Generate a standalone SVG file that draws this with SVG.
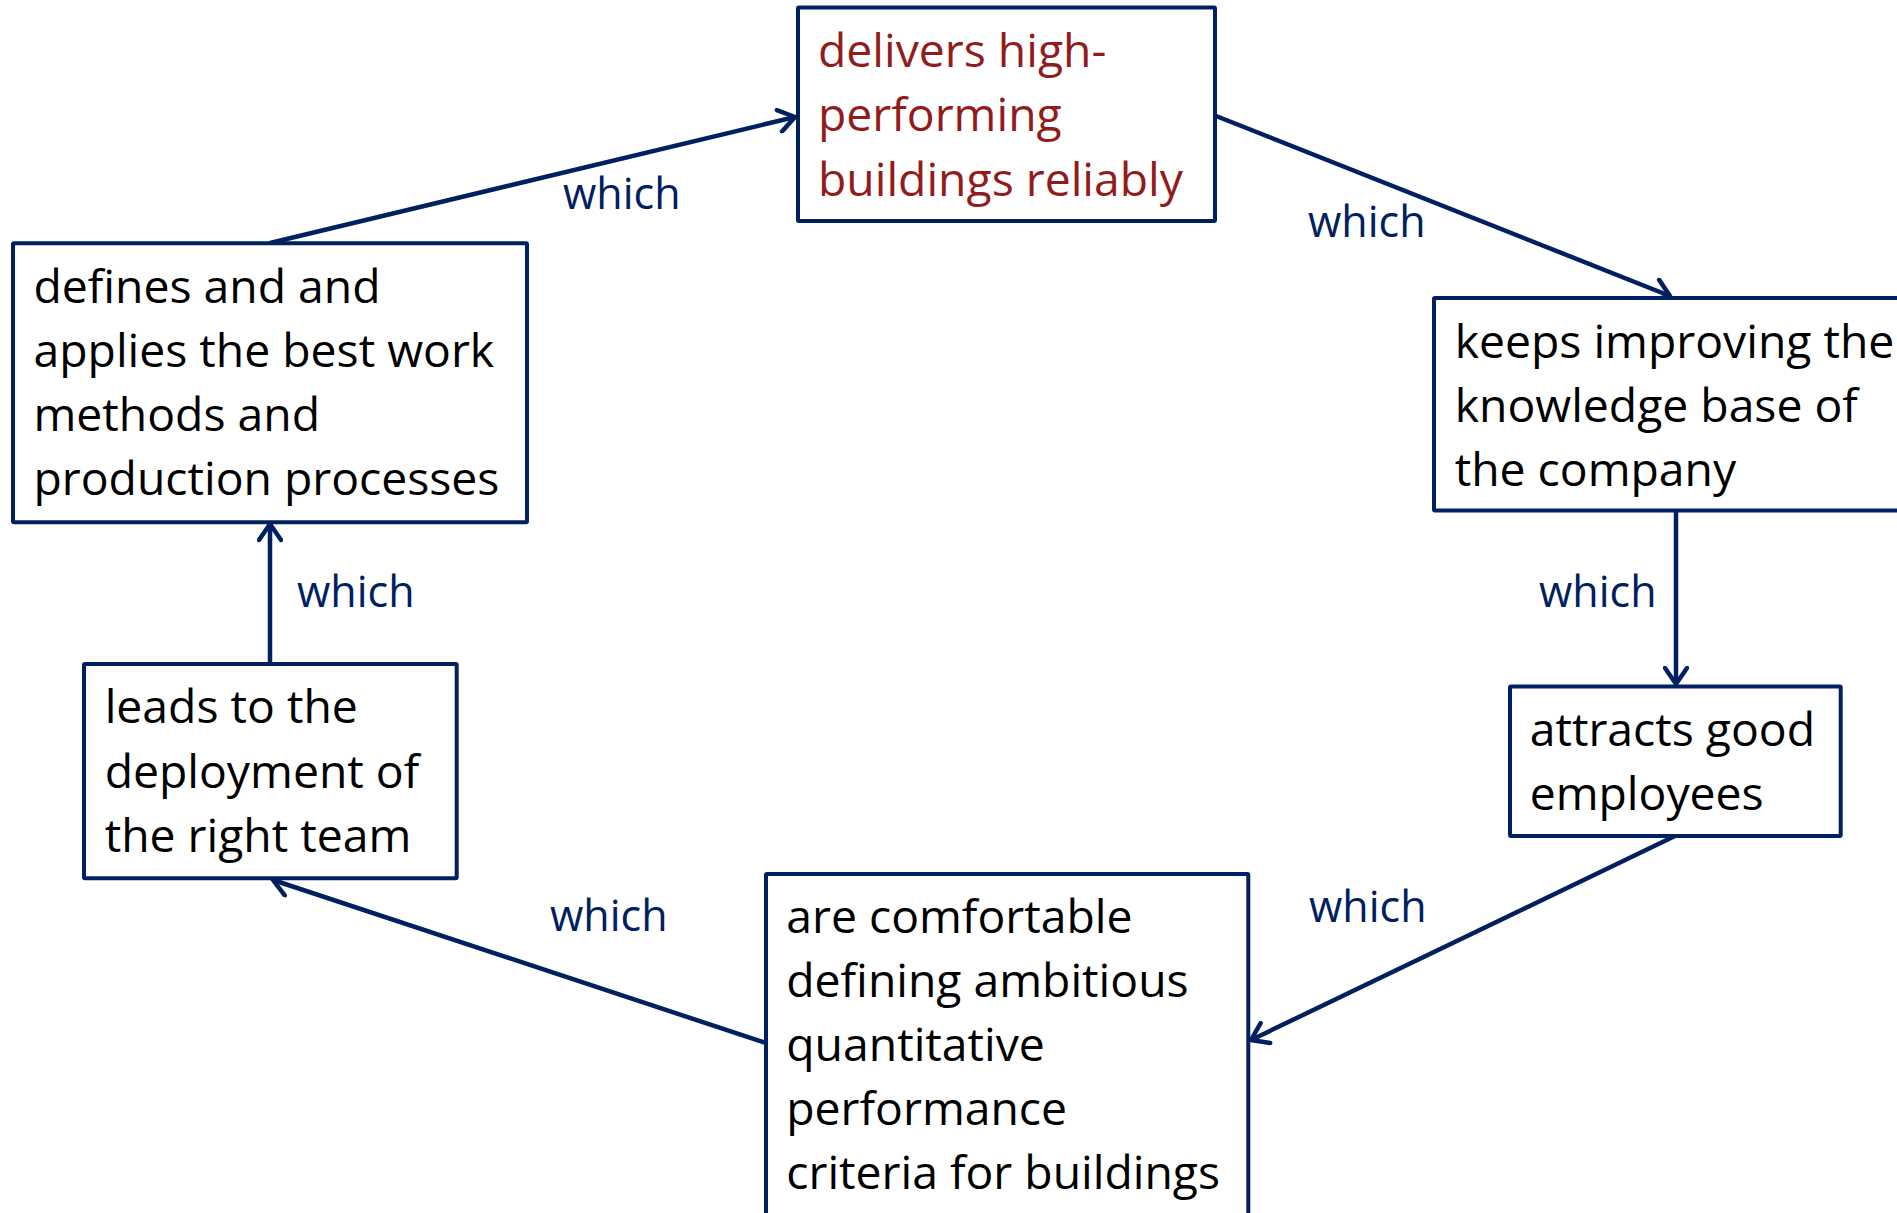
<svg xmlns="http://www.w3.org/2000/svg" width="1897" height="1213" viewBox="0 0 1897 1213">
<style>
.box{fill:#fff;stroke:#002060;stroke-width:4;}
.t{font-family:"Open Sans","Noto Sans","Liberation Sans",sans-serif;font-size:46.3px;fill:#000;}
.red{fill:#921c1c;}
.lbl{font-family:"Open Sans","Noto Sans","Liberation Sans",sans-serif;font-size:43px;fill:#002060;}
.c{fill:none;stroke:#002060;stroke-width:4.5;marker-end:url(#ah);}
</style>
<defs>
<marker id="ah" markerUnits="userSpaceOnUse" viewBox="0 0 24 26" markerWidth="24" markerHeight="26" refX="20" refY="13" orient="auto">
<path d="M4,2 L20,13 L4,24" fill="none" stroke="#002060" stroke-width="4.5" stroke-linecap="round" stroke-linejoin="round"/>
</marker>
</defs>
<rect width="1897" height="1213" fill="#fff"/>
<g id="connectors">
<line class="c" x1="270" y1="243" x2="795" y2="117"/>
<line class="c" x1="1216" y1="116" x2="1670" y2="296"/>
<line class="c" x1="1676" y1="511" x2="1676" y2="684"/>
<line class="c" x1="1675" y1="836" x2="1251" y2="1040"/>
<line class="c" x1="766" y1="1043" x2="273" y2="880"/>
<line class="c" x1="270" y1="664" x2="270" y2="524"/>
<text class="lbl" x="563" y="209">which</text>
<text class="lbl" x="1308" y="237">which</text>
<text class="lbl" x="1539" y="607">which</text>
<text class="lbl" x="1309" y="922">which</text>
<text class="lbl" x="550" y="931">which</text>
<text class="lbl" x="297" y="607">which</text>
</g>
<g id="n1">
<rect class="box" x="798" y="7.5" width="417" height="213.5" rx="1"/>
<text class="t red" x="818" y="66.7">delivers high-</text>
<text class="t red" x="818" y="131.2">performing</text>
<text class="t red" x="818" y="195.7">buildings reliably</text>
</g>
<g id="n2">
<rect class="box" x="1434" y="298" width="480" height="212.5" rx="1"/>
<text class="t" x="1454.7" y="357.5">keeps improving the</text>
<text class="t" x="1454.7" y="421.8">knowledge base of</text>
<text class="t" x="1454.7" y="486">the company</text>
</g>
<g id="n3">
<rect class="box" x="1510" y="686.4" width="330.7" height="149.6" rx="1"/>
<text class="t" x="1529.7" y="746">attracts good</text>
<text class="t" x="1529.7" y="810">employees</text>
</g>
<g id="n4">
<rect class="box" x="766" y="874" width="482.3" height="360" rx="1"/>
<text class="t" x="786.3" y="933">are comfortable</text>
<text class="t" x="786.3" y="997">defining ambitious</text>
<text class="t" x="786.3" y="1061">quantitative</text>
<text class="t" x="786.3" y="1125">performance</text>
<text class="t" x="786.3" y="1189">criteria for buildings</text>
</g>
<g id="n5">
<rect class="box" x="84" y="664" width="372.7" height="214.3" rx="1"/>
<text class="t" x="104.7" y="723">leads to the</text>
<text class="t" x="104.7" y="787.5">deployment of</text>
<text class="t" x="104.7" y="852">the right team</text>
</g>
<g id="n6">
<rect class="box" x="13" y="243.3" width="514" height="279" rx="1"/>
<text class="t" x="33.5" y="302.7">defines and and</text>
<text class="t" x="33.5" y="366.7">applies the best work</text>
<text class="t" x="33.5" y="430.7">methods and</text>
<text class="t" x="33.5" y="494.7">production processes</text>
</g>
</svg>
